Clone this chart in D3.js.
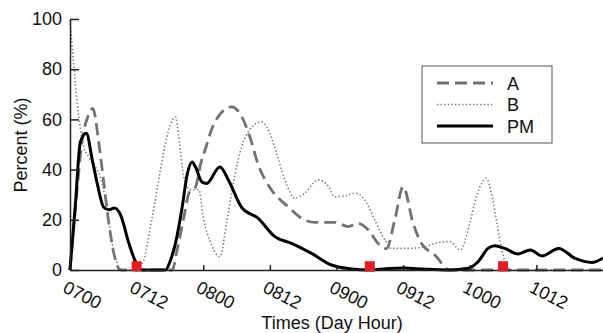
<!DOCTYPE html>
<html lang="en">
<head>
  <meta charset="UTF-8">
  <title>Percent by Day Hour</title>
  <script src="https://d3js.org/d3.v7.min.js"></script>
  <style>
    body { margin: 0; background: #fff; }
    text { font-family: "Liberation Sans", Arial, sans-serif; }
    .axis text { font-size: 18px; fill: #111; }
    .axis path, .axis line { stroke: #222; stroke-width: 1.5; }
    .axis-label { font-size: 18px; fill: #111; }
  </style>
</head>
<body>
  <div id="body"></div>
  <script>
    // hours since day 07, 00:00
    const tickHours = [0, 12, 24, 36, 48, 60, 72, 84];
    const tickLabels = ["0700", "0712", "0800", "0812", "0900", "0912", "1000", "1012"];
    const yTicks = [0, 20, 40, 60, 80, 100];

    const aHours = [0, 1, 2.2, 3.2, 4.1, 5.2, 6.1, 7, 7.9, 9.1, 18.4, 19.3, 20.5, 21.5, 22.6, 23.5, 24.5, 25.5, 27, 29.1, 30.6, 32.4, 33.9, 36.3, 39.3, 41.7, 44.1, 47.7, 50.1, 51.9, 53.7, 55.5, 57, 58.5, 60, 61.8, 63.3, 65.7, 68.4, 96];
    const aValues = [0, 25, 52, 61, 64.4, 50.5, 34.5, 18.6, 6.6, 0, 0, 8, 21, 31, 33, 42, 49, 56, 62, 65, 62.4, 53, 42, 31.9, 25.2, 20.6, 19, 19, 17.3, 18.6, 16, 10.6, 8.5, 20, 33.2, 18.6, 10.6, 6, 0, 0];

    const bHours = [0, 0.7, 1.3, 1.9, 2.5, 3.4, 4.6, 5.8, 6.7, 7.6, 8.5, 9.3, 11, 13, 14.8, 16.3, 17.8, 19, 19.6, 20.5, 21.7, 23.2, 24, 25.5, 27, 28.2, 29.4, 30.9, 32.4, 34.5, 36, 37.2, 38.7, 40.5, 42.3, 44.7, 46.5, 47.7, 49.5, 51.3, 53.1, 54.9, 56.7, 57.9, 60.9, 63.9, 66.5, 68.4, 70.3, 72, 73.2, 75, 75.9, 76.9, 77.8, 78.7, 79.5, 96];
    const bValues = [99.6, 81, 66.4, 55.8, 49, 45, 41, 34.5, 24, 10.6, 2.7, 0, 0, 2.7, 21, 40, 56, 61, 53, 37, 32, 32, 21, 10, 5.3, 18.6, 34.5, 49, 56, 59, 54.4, 46.5, 35.9, 28.6, 30.6, 35.9, 33.5, 29.2, 29.5, 30.6, 27.9, 19.9, 12, 8.6, 8.6, 9.3, 11, 11.3, 8, 18.6, 29.2, 36.5, 30.6, 18.6, 8, 1.3, 0, 0];

    const pmHours = [0, 1, 1.86, 2.94, 4, 4.9, 6.07, 7, 8, 9.1, 10.6, 11.8, 13, 17.2, 18, 19, 20.2, 21.1, 22, 22.6, 23.8, 24.6, 27, 28.5, 30.9, 33.9, 36.9, 39.9, 43.5, 47.1, 50.4, 54, 57, 60, 64, 68.4, 71.7, 73.5, 75.3, 76.5, 78.3, 80.7, 82.9, 85, 88, 91, 94, 96];
    const pmValues = [0, 27, 51, 54.5, 44, 34.5, 25, 24, 24.7, 22, 10.7, 3.3, 0, 0, 3.3, 10.7, 25, 38, 43, 41, 35, 34.5, 41, 36, 25, 20.6, 13.3, 10.6, 6.6, 2, 0.5, 0, 0.5, 0.8, 0.3, 0, 0.7, 3.3, 8.6, 9.7, 8.6, 6.4, 8, 5.6, 8.6, 4.6, 3, 4.8];

    const markerHours = [12, 54, 78];
    const markerValues = [1.5, 1.5, 1.5];

    const seriesNames = ["A", "B", "PM"];

    //dimensions
    const W = 603, H = 333;
    const margin = { top: 19, right: 0, bottom: 63, left: 70 };
    const width = W - margin.left - margin.right, height = H - margin.top - margin.bottom;

    const svg = d3.select("#body")
                  .append("svg")
                  .attr("width", W)
                  .attr("height", H)
                  .append("g")
                  .attr("transform", `translate(${margin.left},${margin.top})`);

    const x = d3.scaleLinear().domain([0, 96]).range([0, width]);
    const y = d3.scaleLinear().domain([0, 100]).range([height, 0]);

    const series = [
      { name: "A", hours: aHours, values: aValues, stroke: "#727272", width: 2.8, dash: "12,6" },
      { name: "B", hours: bHours, values: bValues, stroke: "#7a7a7a", width: 1.6, dash: "1.4,2.2" },
      { name: "PM", hours: pmHours, values: pmValues, stroke: "#000", width: 3, dash: null }
    ];

    const line = d3.line()
                   .x(d => x(d[0]))
                   .y(d => y(d[1]))
                   .curve(d3.curveMonotoneX);

    // lines
    series.forEach(s => {
      svg.append("path")
         .datum(d3.zip(s.hours, s.values))
         .attr("fill", "none")
         .attr("stroke", s.stroke)
         .attr("stroke-width", s.width)
         .attr("stroke-dasharray", s.dash)
         .attr("stroke-linejoin", "round")
         .attr("d", line);
    });

    // y-axis
    svg.append("g")
       .attr("class", "axis")
       .call(d3.axisLeft(y).tickValues(yTicks).tickSizeInner(-9).tickSizeOuter(0).tickPadding(8));

    // x-axis
    svg.append("g")
       .attr("class", "axis")
       .attr("transform", `translate(0,${height})`)
       .call(d3.axisBottom(x).tickValues(tickHours).tickSizeInner(-5).tickSizeOuter(0)
               .tickFormat((d, i) => tickLabels[i]))
       .selectAll("text")
       .attr("x", 2)
       .attr("y", 23)
       .attr("dy", 0)
       .style("text-anchor", "start")
       .attr("transform", "rotate(27)");

    // red markers
    svg.selectAll(".marker")
       .data(d3.zip(markerHours, markerValues))
       .enter()
       .append("rect")
       .attr("class", "marker")
       .attr("x", d => x(d[0]) - 5)
       .attr("y", d => y(d[1]) - 5)
       .attr("width", 10)
       .attr("height", 10)
       .attr("fill", "#e51c23");

    // axis titles
    svg.append("text")
       .attr("class", "axis-label")
       .attr("x", 262)
       .attr("y", 310)
       .attr("text-anchor", "middle")
       .text("Times (Day Hour)");

    svg.append("text")
       .attr("class", "axis-label")
       .attr("transform", "rotate(-90)")
       .attr("x", -126)
       .attr("y", -43)
       .attr("text-anchor", "middle")
       .text("Percent (%)");

    // legend
    const legend = svg.append("g").attr("transform", "translate(352,47)");
    legend.append("rect")
          .attr("width", 130)
          .attr("height", 77)
          .attr("fill", "#fff")
          .attr("stroke", "#555")
          .attr("stroke-width", 1);

    series.forEach((s, i) => {
      const ly = 17 + i * 21.5;
      legend.append("line")
            .attr("x1", 15).attr("x2", 71)
            .attr("y1", ly).attr("y2", ly)
            .attr("stroke", s.stroke)
            .attr("stroke-width", s.width)
            .attr("stroke-dasharray", s.dash);
      legend.append("text")
            .attr("x", 85)
            .attr("y", ly + 6.5)
            .attr("font-size", "18px")
            .attr("fill", "#111")
            .text(seriesNames[i]);
    });
  </script>
</body>
</html>
